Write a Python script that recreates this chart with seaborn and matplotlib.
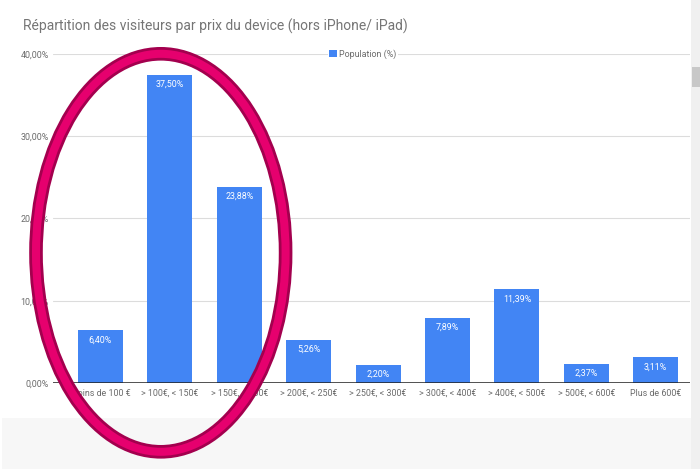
import matplotlib
matplotlib.use("Agg")
import matplotlib.pyplot as plt
from matplotlib.patches import Ellipse, Rectangle
import seaborn as sns
import pandas as pd

# ---- data ----
categories = ["Moins de 100 €", "> 100€, < 150€", "> 150€, < 200€", "> 200€, < 250€",
              "> 250€, < 300€", "> 300€, < 400€", "> 400€, < 500€", "> 500€, < 600€",
              "Plus de 600€"]
population = [6.40, 37.50, 23.88, 5.26, 2.20, 7.89, 11.39, 2.37, 3.11]
y_ticks = [0, 10, 20, 30, 40]
title = "Répartition des visiteurs par prix du device (hors iPhone/ iPad)"
series_name = "Population (%)"

def fr_pct(v):
    return f"{v:.2f}".replace(".", ",") + "%"

sns.set_style("white")
plt.rcParams["font.family"] = ["Roboto", "DejaVu Sans"]

W, H = 700, 469
fig = plt.figure(figsize=(W / 100, H / 100), dpi=100)
fig.patch.set_facecolor("white")

def px(x0, y0, x1, y1):
    """pixel box (top-left origin) -> figure rect"""
    return [x0 / W, 1 - y1 / H, (x1 - x0) / W, (y1 - y0) / H]

ax = fig.add_axes(px(53, 54, 690, 383))
df = pd.DataFrame({"cat": categories, "val": population})
sns.barplot(data=df, x="cat", y="val", color="#4285f4", saturation=1,
            width=0.65, linewidth=0, ax=ax, label=series_name)

ax.set_xlim(-0.684, 8.494)
ax.set_ylim(0, 40)
ax.set_yticks(y_ticks)
ax.set_yticklabels([fr_pct(t) for t in y_ticks])
ax.set_xlabel("")
ax.set_ylabel("")
for s in ax.spines.values():
    s.set_visible(False)
ax.tick_params(axis="both", length=0, labelsize=6.4, labelcolor="#6b6b6b")
ax.tick_params(axis="y", pad=3)
ax.tick_params(axis="x", pad=4)
for t in y_ticks[1:]:
    ax.axhline(t, color="#dcdcdc", lw=0.8, zorder=0)
ax.axhline(0, color="#222222", lw=1.1, zorder=3)

for i, v in enumerate(population):
    ax.annotate(fr_pct(v), xy=(i, v), xytext=(0, -3.6), textcoords="offset points",
                ha="center", va="top", fontsize=6.4, color="white", zorder=4)

leg = ax.legend(loc="center", bbox_to_anchor=((363 - 53) / 637, 1.0), frameon=True,
                fontsize=6.4, handlelength=0.8, handleheight=0.8, handletextpad=0.3,
                borderpad=0.2, labelcolor="#6b6b6b")
leg.get_frame().set_facecolor("white")
leg.get_frame().set_edgecolor("none")
leg.get_frame().set_alpha(1)

fig.text(23 / W, 1 - 26 / H, title, ha="left", va="center", fontsize=10, color="#757575")

# page decorations (screenshot background)
fig.add_artist(Rectangle((2 / W, 0), (691 - 2) / W, (H - 418) / H, transform=fig.transFigure,
                         facecolor="#f7f7f7", edgecolor="none", zorder=-1))
fig.add_artist(Rectangle((691 / W, 0), 9 / W, 1, transform=fig.transFigure,
                         facecolor="#f0f0f0", edgecolor="none", zorder=-1))
fig.add_artist(Rectangle((692 / W, 1 - 87 / H), 8 / W, 20 / H, transform=fig.transFigure,
                         facecolor="#c8c8c8", edgecolor="none", zorder=-1))

# pink highlight ellipse
cx, cy, hw, hh = 160.8, 252.8, 124.8, 199.0
for lw, col in [(9.8, "#a3004e"), (5.8, "#e6006e")]:
    fig.add_artist(Ellipse((cx / W, 1 - cy / H), 2 * hw / W, 2 * hh / H,
                           transform=fig.transFigure, fill=False, lw=lw,
                           edgecolor=col, zorder=10))

fig.savefig("out.png", dpi=100)
